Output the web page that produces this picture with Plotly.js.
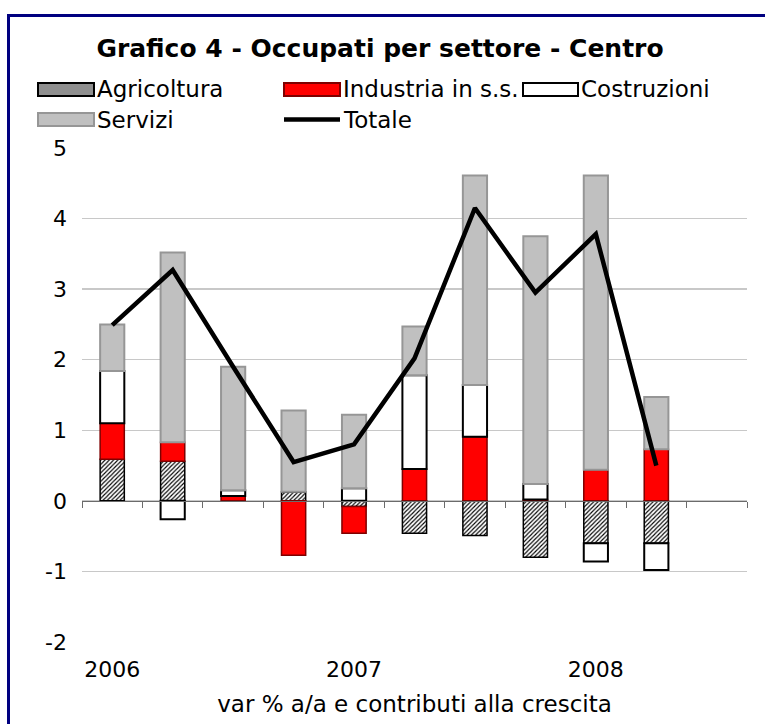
<!DOCTYPE html>
<html>
<head>
<meta charset="utf-8">
<script src="https://cdn.plot.ly/plotly-3.0.1.min.js"></script>
<style>
  html, body { margin: 0; padding: 0; background: #fff; overflow: hidden; }
  #chart { width: 765px; height: 724px; }
  #frame { position: absolute; left: 7px; top: 14px; width: 900px; height: 900px;
           border-left: 3px solid #000080; border-top: 3px solid #000080; pointer-events: none; }
</style>
</head>
<body>
<div id="chart"></div>
<div id="frame"></div>
<script>
// ---- data ----
const quarters = ['I 2006','II 2006','III 2006','IV 2006','I 2007','II 2007','III 2007','IV 2007','I 2008','II 2008','III 2008'];
const agricoltura = [0.59, 0.56, 0.00, 0.13, -0.08, -0.46, -0.49, -0.80, -0.60, -0.60, null];
const industria   = [0.51, 0.27, 0.07, -0.77, -0.38, 0.45, 0.91, 0.02, 0.44, 0.73, null];
const costruzioni = [0.74, -0.26, 0.08, 0.00, 0.18, 1.33, 0.73, 0.22, -0.26, -0.38, null];
const servizi     = [0.66, 2.69, 1.75, 1.15, 1.04, 0.69, 2.97, 3.51, 4.17, 0.74, null];
const totale      = [2.49, 3.27, 1.90, 0.55, 0.80, 2.02, 4.15, 2.95, 3.78, 0.50, null];
const yearTickVals = ['I 2006', 'I 2007', 'I 2008'];
const yearTickText = ['2006', '2007', '2008'];
const yTickVals = [-2, -1, 0, 1, 2, 3, 4, 5];
const yTickText = ['-2', '-1', '0', '1', '2', '3', '4', '5'];
const seriesNames = ['Agricoltura', 'Industria in s.s.', 'Costruzioni', 'Servizi', 'Totale'];

// ---- layout helpers (pixel -> paper) ----
const W = 765, H = 724, L = 82, R = 18, T = 148, B = 82;
const pw = W - L - R, ph = H - T - B;
const px = x => (x - L) / pw;
const py = y => (H - B - y) / ph;
const FONT = 'DejaVu Sans, Verdana, sans-serif';

const traces = [
  { type: 'bar', name: seriesNames[0], x: quarters, y: agricoltura,
    marker: { color: '#ffffff', line: { color: '#000000', width: 1.5 },
              pattern: { shape: '/', size: 3, solidity: 0.38, fgcolor: '#000000', bgcolor: '#ffffff' } } },
  { type: 'bar', name: seriesNames[1], x: quarters, y: industria,
    marker: { color: '#ff0000', line: { color: '#7f0000', width: 1.5 } } },
  { type: 'bar', name: seriesNames[2], x: quarters, y: costruzioni,
    marker: { color: '#ffffff', line: { color: '#000000', width: 2 } } },
  { type: 'bar', name: seriesNames[3], x: quarters, y: servizi,
    marker: { color: '#c0c0c0', line: { color: '#969696', width: 2 } } },
  { type: 'scatter', mode: 'lines', name: seriesNames[4], x: quarters, y: totale,
    line: { color: '#000000', width: 4.5 } },
  // invisible helper trace for the zero axis with boundary ticks
  { type: 'scatter', mode: 'lines', x: quarters, y: quarters.map(() => null),
    xaxis: 'x2', yaxis: 'y', showlegend: false, hoverinfo: 'skip' }
];

// custom legend (wide Excel-style keys)
const legendShapes = [];
const legendAnn = [];
function legendBox(x0, x1, yc, fill, lineColor, lw) {
  legendShapes.push({ type: 'rect', xref: 'paper', yref: 'paper',
    x0: px(x0), x1: px(x1), y0: py(yc - 6.5), y1: py(yc + 6.5),
    fillcolor: fill, line: { color: lineColor, width: lw } });
}
function legendText(x, yc, t) {
  legendAnn.push({ xref: 'paper', yref: 'paper', x: px(x), y: py(yc), text: t,
    showarrow: false, xanchor: 'left', yanchor: 'middle',
    font: { family: FONT, size: 23, color: '#000' } });
}
legendBox(38, 94, 89.5, '#8f8f8f', '#000000', 2);
legendText(95, 89.5, seriesNames[0]);
legendBox(284, 340, 89.5, '#ff0000', '#7f0000', 2);
legendText(341, 89.5, seriesNames[1]);
legendBox(523, 578, 89.5, '#ffffff', '#000000', 2);
legendText(579, 89.5, seriesNames[2]);
legendBox(38, 94, 119.5, '#c0c0c0', '#969696', 2);
legendText(95, 119.5, seriesNames[3]);
legendShapes.push({ type: 'line', xref: 'paper', yref: 'paper',
  x0: px(284), x1: px(340), y0: py(119.5), y1: py(119.5), line: { color: '#000', width: 4.5 } });
legendText(341, 119.5, seriesNames[4]);

const layout = {
  width: W, height: H,
  margin: { l: L, r: R, t: T, b: B },
  paper_bgcolor: '#ffffff', plot_bgcolor: '#ffffff',
  showlegend: false,
  barmode: 'relative',
  bargap: 0.6,
  font: { family: FONT, color: '#000' },
  title: { text: 'Grafico 4 - Occupati per settore - Centro',
           font: { family: FONT, size: 25, color: '#000', weight: 'bold' },
           x: 380 / W, xref: 'container', xanchor: 'center',
           y: 1 - 48 / H, yref: 'container', yanchor: 'middle' },
  xaxis: { type: 'category', range: [-0.5, 10.5], categoryorder: 'array', categoryarray: quarters,
           tickvals: yearTickVals, ticktext: yearTickText, ticks: '', showgrid: false, showline: false,
           zeroline: false, tickfont: { family: FONT, size: 22, color: '#000' }, ticklabelstandoff: 12,
           title: { text: 'var % a/a e contributi alla crescita', standoff: 14,
                    font: { family: FONT, size: 23, color: '#000' } } },
  xaxis2: { type: 'category', overlaying: 'x', anchor: 'free', position: 2 / 7,
            range: [-0.5, 10.5], categoryorder: 'array', categoryarray: quarters,
            tickson: 'boundaries', ticks: 'outside', ticklen: 6, tickwidth: 1, tickcolor: '#6b6b6b',
            showline: true, linecolor: '#6b6b6b', linewidth: 1.5, showticklabels: false,
            showgrid: false, zeroline: false },
  yaxis: { range: [-2, 5], tickvals: yTickVals, ticktext: yTickText,
           showgrid: true, gridcolor: '#c8c8c8', gridwidth: 1.5,
           zeroline: false, showline: false, ticks: '',
           tickfont: { family: FONT, size: 22, color: '#000' }, ticklabelstandoff: 14 },
  shapes: legendShapes,
  annotations: legendAnn
};

Plotly.newPlot('chart', traces, layout, { displayModeBar: false, staticPlot: true });
</script>
</body>
</html>
